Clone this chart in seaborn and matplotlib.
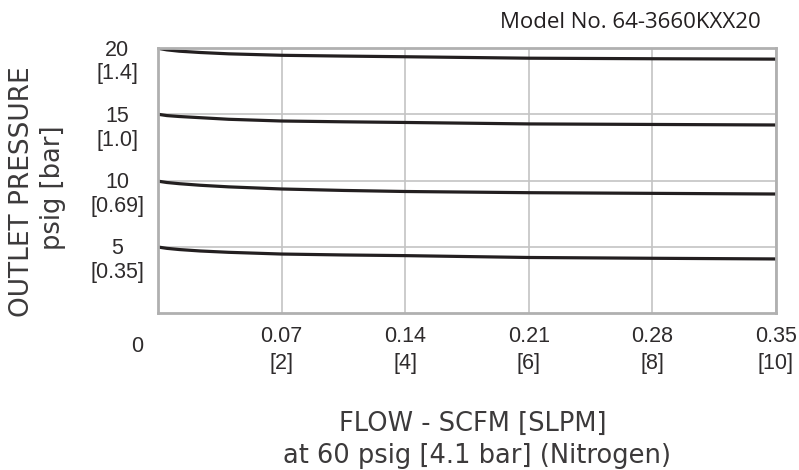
import matplotlib
matplotlib.use("Agg")
from matplotlib import pyplot as plt
from matplotlib import transforms
import pandas as pd
import numpy as np
import seaborn as sns

# flow in SCFM, outlet pressure in psig
flow = [0, 0.005, 0.012, 0.024, 0.04, 0.07, 0.105, 0.14, 0.21, 0.28, 0.35]
p20 = [19.98, 19.86, 19.76, 19.66, 19.56, 19.45, 19.39, 19.34, 19.23, 19.19, 19.16]
p15 = [15.0, 14.9, 14.83, 14.74, 14.62, 14.49, 14.43, 14.38, 14.27, 14.23, 14.19]
p10 = [9.95, 9.85, 9.76, 9.64, 9.52, 9.36, 9.25, 9.17, 9.08, 9.03, 8.98]
p5 = [4.98, 4.88, 4.79, 4.68, 4.58, 4.45, 4.38, 4.33, 4.19, 4.13, 4.08]

x_ticks = [0.07, 0.14, 0.21, 0.28, 0.35]
x_slpm = ["[2]", "[4]", "[6]", "[8]", "[10]"]
y_ticks = [5, 10, 15, 20]
y_bar = ["[0.35]", "[0.69]", "[1.0]", "[1.4]"]

df = pd.concat([
    pd.DataFrame({"flow": flow, "pressure": p, "setting": s})
    for p, s in [(p20, "20"), (p15, "15"), (p10, "10"), (p5, "5")]
])

sns.set_style("white")
plt.rcParams["font.family"] = ["Liberation Sans", "DejaVu Sans"]

fig = plt.figure(figsize=(7.99, 4.70), dpi=100)
ax = fig.add_axes([158 / 799, 1 - 313 / 470, 618 / 799, 265 / 470])

sns.lineplot(data=df, x="flow", y="pressure", hue="setting",
             palette=["#231f20"] * 4, linewidth=2.3, legend=False, ax=ax)

ax.set_xlim(0, 0.35)
ax.set_ylim(0, 20)
ax.set_xticks(x_ticks)
ax.set_yticks(y_ticks)
ax.set_xticklabels([])
ax.set_yticklabels([])
ax.tick_params(length=0)
ax.grid(True, color="#c4c4c4", linewidth=1.2)
for s in ax.spines.values():
    s.set_color("#b0b0b0")
    s.set_linewidth(2)
ax.set_xlabel("")
ax.set_ylabel("")

txt = dict(fontsize=15.5, color="#2e2b2c", ha="center", va="center")
xtr = ax.get_xaxis_transform()
for v, b in zip(x_ticks, x_slpm):
    ax.text(v, 0, f"{v:.2f}", transform=transforms.offset_copy(xtr, fig, y=-23, units="dots"), **txt)
    ax.text(v, 0, b, transform=transforms.offset_copy(xtr, fig, y=-51, units="dots"), **txt)

ytr = ax.get_yaxis_transform()
for v, b in zip(y_ticks, y_bar):
    ax.text(0, v, str(v), transform=transforms.offset_copy(ytr, fig, x=-41, y=-2, units="dots"), **txt)
    ax.text(0, v, b, transform=transforms.offset_copy(ytr, fig, x=-41, y=-26, units="dots"), **txt)
ax.text(0, 0, "0", transform=transforms.offset_copy(ax.transAxes, fig, x=-21, y=-34, units="dots"), **txt)

lab = dict(family="DejaVu Sans", color="#3c3a3b", ha="center", va="center")
fig.text(22 / 799, 1 - 192 / 470, "OUTLET PRESSURE", rotation=90, fontsize=19, **lab)
fig.text(53 / 799, 1 - 188 / 470, "psig [bar]", rotation=90, fontsize=18.5, **lab)
fig.text(473 / 799, 1 - 424 / 470, "FLOW - SCFM [SLPM]", fontsize=18.5, **lab)
fig.text(477 / 799, 1 - 456 / 470, "at 60 psig [4.1 bar] (Nitrogen)", fontsize=18.5, **lab)

fig.text(761 / 799, 1 - 23 / 470, "Model No. 64-3660KXX20", family="Open Sans",
         fontsize=16, color="#231f20", ha="right", va="center")

plt.savefig("out.png", dpi=100)
